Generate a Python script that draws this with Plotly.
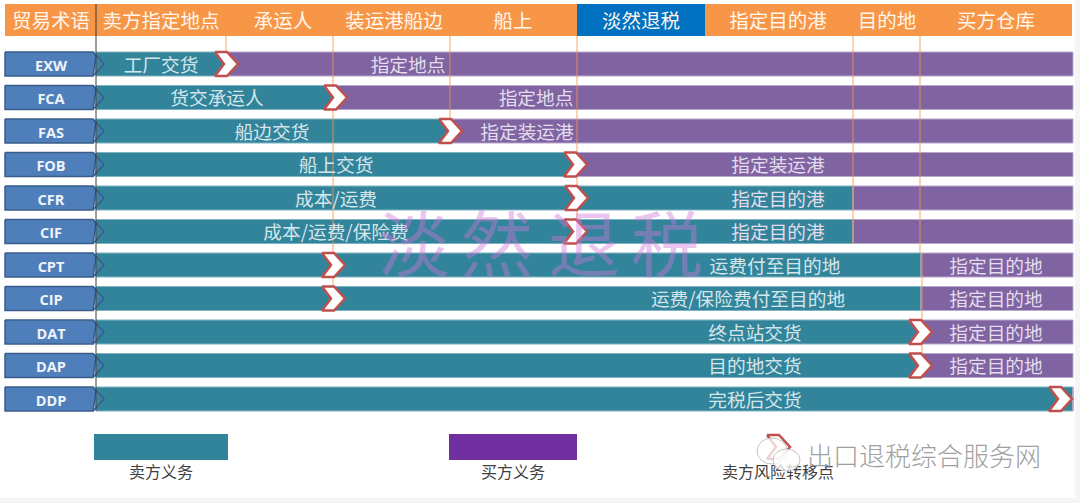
import plotly.graph_objects as go

terms = ['EXW', 'FCA', 'FAS', 'FOB', 'CFR', 'CIF', 'CPT', 'CIP', 'DAT', 'DAP', 'DDP']
seller_end = [228, 335, 450, 577, 853, 853, 921, 921, 921, 921, 1073]
risk_point = [226, 335, 450, 575, 576, 575, 333, 333, 920, 920, 1060]
seller_text = ['工厂交货', '货交承运人', '船边交货', '船上交货', '成本/运费', '成本/运费/保险费',
               '运费付至目的地', '运费/保险费付至目的地', '终点站交货', '目的地交货', '完税后交货']
seller_text_x = [161, 217, 272, 336, 336, 336, 775, 748, 755, 755, 755]
buyer_text = ['指定地点', '指定地点', '指定装运港', '指定装运港', '指定目的港', '指定目的港',
              '指定目的地', '指定目的地', '指定目的地', '指定目的地', '']
buyer_text_x = [408, 536, 527, 778, 778, 778, 996, 996, 996, 996, 996]

headers = ['贸易术语', '卖方指定地点', '承运人', '装运港船边', '船上', '淡然退税', '指定目的港', '目的地', '买方仓库']
header_left = [5, 96, 226, 333, 450, 577, 705, 853, 920]
header_right = [96, 226, 333, 450, 577, 705, 853, 920, 1072]
header_text_x = [51, 161, 283, 394, 513, 641, 778, 887, 996]

guide_x = [226, 333, 450, 577, 853, 920, 922]
guide_top = [36, 4, 36, 36, 36, 36, 253]
guide_bottom = [52, 287, 119, 222, 244, 253, 353]

legend_names = ['卖方义务', '买方义务', '卖方风险转移点']
legend_text_x = [161, 513, 778]

watermark_chars = ['淡', '然', '退', '税']
watermark_x = [414, 497, 584, 667]

CJK = 'Noto Sans CJK SC'
TEAL = '#32849b'
PURPLE = '#8064a2'
ORANGE = '#f79646'
RED = '#c0504d'

ROW_Y0 = 64
ROW_STEP = 33.5
row_y = [ROW_Y0 + ROW_STEP * i for i in range(len(terms))]

fig = go.Figure()

# page edge
fig.add_shape(type='rect', x0=1075, x1=1080, y0=0, y1=503, fillcolor='#f5f5f5', line_width=0, layer='below')
fig.add_shape(type='rect', x0=0, x1=1080, y0=498, y1=503, fillcolor='#f5f5f5', line_width=0, layer='below')

# bars
fig.add_trace(go.Bar(y=row_y, x=[e - 96 for e in seller_end], base=[96] * len(terms), orientation='h', width=24,
                     marker=dict(color=TEAL, line=dict(color='#7fb3c2', width=1))))
fig.add_trace(go.Bar(y=row_y, x=[1073 - e for e in seller_end], base=seller_end, orientation='h', width=24,
                     marker=dict(color=PURPLE, line=dict(color='#b7a8cc', width=1))))

# header band
for name, l, r, tx in zip(headers, header_left, header_right, header_text_x):
    color = '#0070c0' if name == '淡然退税' else ORANGE
    fig.add_trace(go.Bar(y=[20], x=[r - l], base=[l], orientation='h', width=32,
                         marker=dict(color=color, line_width=0)))
    fig.add_trace(go.Scatter(x=[tx], y=[23], mode='text', text=[name],
                             textfont=dict(family=CJK, size=19.5, color='#fff6ee')))

# legend boxes
fig.add_trace(go.Bar(y=[447], x=[134], base=[94], orientation='h', width=26, marker=dict(color=TEAL, line_width=0)))
fig.add_trace(go.Bar(y=[447], x=[128], base=[449], orientation='h', width=26, marker=dict(color='#7030a0', line_width=0)))

# guide lines
for x, t, b in zip(guide_x, guide_top, guide_bottom):
    fig.add_trace(go.Scatter(x=[x, x], y=[t, b], mode='lines',
                             line=dict(color='rgba(247,150,70,0.55)', width=1.5)))

# term pentagons
for term, y in zip(terms, row_y):
    fig.add_trace(go.Scatter(x=[93, 104, 93, 93], y=[y - 12, y, y + 12, y - 12], mode='lines', fill='toself',
                             fillcolor='rgba(79,129,189,0.35)', line=dict(color='#385d8a', width=1.5)))
    fig.add_trace(go.Scatter(x=[5, 93, 96, 93, 5, 5], y=[y - 12, y - 12, y - 8, y + 12, y + 12, y - 12],
                             mode='lines', fill='toself', fillcolor='#4f7fbb',
                             line=dict(color='#385d8a', width=1.5)))
    fig.add_trace(go.Scatter(x=[51], y=[y + 3], mode='text', text=[term],
                             textfont=dict(family='Open Sans', size=14.5, color='#eef3f9', weight=700)))
fig.add_trace(go.Scatter(x=[96, 96], y=[4, 411], mode='lines', line=dict(color='#3a3a3a', width=1)))

# row labels
fig.add_trace(go.Scatter(x=seller_text_x, y=[y + 3 for y in row_y], mode='text', text=seller_text,
                         textfont=dict(family=CJK, size=18.7, color='#d5e6eb')))
fig.add_trace(go.Scatter(x=buyer_text_x, y=[y + 3 for y in row_y], mode='text', text=buyer_text,
                         textfont=dict(family=CJK, size=18.7, color='#e2dcec')))


def chevron(cx, cy):
    xs = [cx - 11, cx + 1, cx + 12, cx + 1, cx - 11, cx - 2, cx - 11]
    ys = [cy - 12, cy - 12, cy, cy + 12, cy + 12, cy, cy - 12]
    fig.add_trace(go.Scatter(x=xs, y=ys, mode='lines', fill='toself', fillcolor='white',
                             line=dict(color=RED, width=2.5)))


for x, y in zip(risk_point, row_y):
    chevron(x, y)
chevron(778, 447)

# watermark
fig.add_trace(go.Scatter(x=watermark_x, y=[253] * 4, mode='text', text=watermark_chars,
                         textfont=dict(family=CJK, size=72, color='rgba(205,120,215,0.42)')))

# legend text
fig.add_trace(go.Scatter(x=legend_text_x, y=[474] * 3, mode='text', text=legend_names,
                         textfont=dict(family=CJK, size=16, color='#404040')))

# wechat mark
fig.add_shape(type='circle', x0=757, x1=787, y0=438, y1=464, fillcolor='rgba(255,255,255,0.75)',
              line=dict(color='#c4c4c4', width=1), layer='above')
fig.add_shape(type='circle', x0=773, x1=800, y0=449, y1=471, fillcolor='rgba(255,255,255,0.75)',
              line=dict(color='#c4c4c4', width=1), layer='above')
fig.add_trace(go.Scatter(x=[807], y=[459], mode='text', text=['出口退税综合服务网'], textposition='middle right',
                         textfont=dict(family=CJK, size=26, color='#a0a0a0', weight=300)))

fig.update_layout(width=1080, height=503, margin=dict(l=0, r=0, t=0, b=0), showlegend=False,
                  plot_bgcolor='white', paper_bgcolor='white', barmode='overlay',
                  xaxis=dict(range=[0, 1080], visible=False, fixedrange=True),
                  yaxis=dict(range=[503, 0], visible=False, fixedrange=True))
fig.write_html("out.html", config=dict(displayModeBar=False),
               post_script="document.body.style.margin='0';document.body.style.overflow='hidden';")
